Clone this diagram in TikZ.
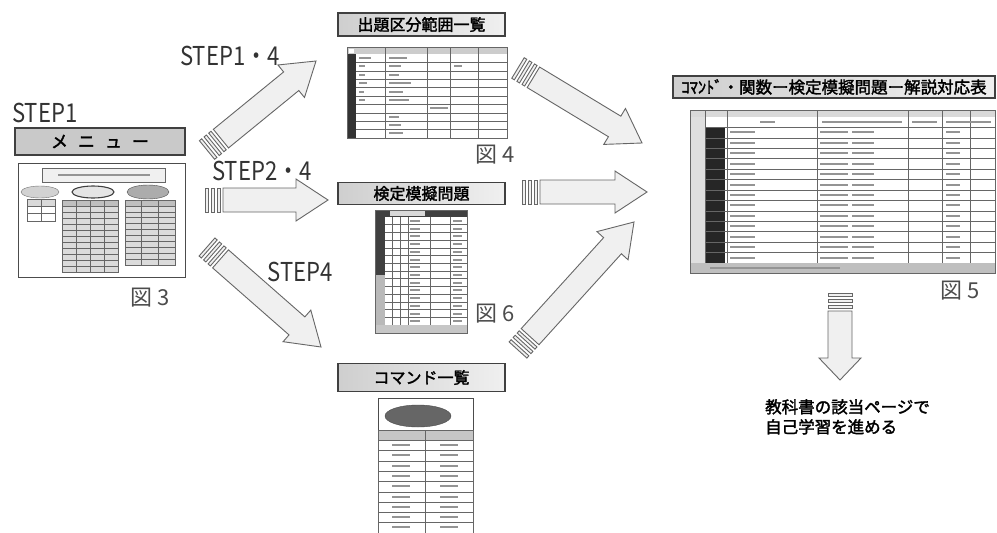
\documentclass[tikz,border=0pt]{standalone}
\usepackage{fontspec}
\usetikzlibrary{calc}
\newfontfamily\jp[AutoFakeBold=2]{Noto Sans CJK JP}
\newfontfamily\stepfont[FakeStretch=0.85]{Noto Sans CJK JP}

\tikzset{
  titlebox/.style={draw=black!75, line width=1.6pt, inner sep=0pt,
    font=\jp\bfseries\fontsize{16}{16}\selectfont, text=black},
  titleshade/.style={titlebox, left color=gray!38, right color=gray!12},
  steplabel/.style={font=\stepfont\fontsize{26}{26}\selectfont, text=black!80, inner sep=0pt},
  figlabel/.style={font=\jp\fontsize{22}{22}\selectfont, text=black!70, inner sep=0pt},
  arrowbody/.style={draw=black!60, fill=gray!12, line width=0.9pt, line join=miter},
  shotframe/.style={draw=black!70, fill=white, line width=0.9pt, inner sep=0pt},
  gridline/.style={draw=black!60, line width=0.6pt},
  textmark/.style={draw=black!42, line width=2pt},
}

% block arrow with striped tail: [head length]{tail}{tip}
\newcommand\blockarrow[3][32]{%
  \foreach \sa/\sb in {0/3,6/9,12/15}{%
    \coordinate (ba-a) at ($(#2)!\sa pt!(#3)$);
    \coordinate (ba-b) at ($(#2)!\sb pt!(#3)$);
    \draw[arrowbody] ($(ba-a)!12pt!90:(#3)$) -- ($(ba-b)!12pt!90:(#3)$)
      -- ($(ba-b)!12pt!-90:(#3)$) -- ($(ba-a)!12pt!-90:(#3)$) -- cycle;
  }
  \coordinate (ba-s) at ($(#2)!18pt!(#3)$);
  \coordinate (ba-h) at ($(#3)!#1pt!(#2)$);
  \draw[arrowbody] ($(ba-s)!12pt!90:(#3)$) -- ($(ba-h)!12pt!90:(#3)$)
    -- ($(ba-h)!21pt!90:(#3)$) -- (#3) -- ($(ba-h)!21pt!-90:(#3)$)
    -- ($(ba-h)!12pt!-90:(#3)$) -- ($(ba-s)!12pt!-90:(#3)$) -- cycle;
}

% evenly ruled table: [style]{x0}{y0}{x1}{y1}{columns}{rows}
\newcommand\cellgrid[7][gridline]{%
  \pgfmathsetmacro\cgdx{(#4-#2)/#6}%
  \pgfmathsetmacro\cgdy{(#5-#3)/#7}%
  \pgfmathtruncatemacro\cgnc{#6-1}%
  \pgfmathtruncatemacro\cgnr{#7-1}%
  \foreach \i in {1,...,\cgnc} \draw[#1] ({#2+\i*\cgdx},#3) -- ({#2+\i*\cgdx},#5);
  \foreach \j in {1,...,\cgnr} \draw[#1] (#2,{#3+\j*\cgdy}) -- (#4,{#3+\j*\cgdy});
  \draw[#1] (#2,#3) rectangle (#4,#5);
}

\begin{document}
\begin{tikzpicture}[x=1pt,y=-1pt]
\useasboundingbox (0,0) rectangle (997,533);
\fill[white] (0,0) rectangle (997,533);

% ---------- step labels ----------
\node[steplabel, anchor=west] (s1) at (12,113) {STEP1};
\node[steplabel] (s14) at (230,56) {STEP1・4};
\node[steplabel] (s24) at (262,171) {STEP2・4};
\node[steplabel] (s4) at (300,272) {STEP4};

% ---------- menu ----------
\node[titlebox, fill=gray!42, minimum width=170, minimum height=27,
      font=\jp\bfseries\fontsize{17}{17}\selectfont] (menu) at (100,141.5)
      {メ\hspace{10pt}ニ\hspace{10pt}ュ\hspace{10pt}ー};
\node[shotframe, minimum width=167, minimum height=114, anchor=north west] (f3) at (18,163) {};
\draw[gridline, fill=gray!12] (42,168) rectangle (165,182);
\draw[textmark] (58,175) -- (150,175);
\draw[black!55, fill=gray!35] (40,192) ellipse [x radius=19, y radius=6];
\draw[black!75, line width=1.1pt, fill=gray!20] (93,192) ellipse [x radius=21, y radius=6];
\draw[black!70, fill=gray!65] (148,192) ellipse [x radius=21, y radius=7];
\fill[gray!30] (27,199) rectangle (55,206);
\cellgrid{27}{199}{55}{221}{2}{3}
\fill[gray!28] (62,200) rectangle (118,272);
\fill[gray!50] (62,200) rectangle (118,206);
\cellgrid{62}{200}{118}{272}{4}{12}
\fill[gray!28] (125,200) rectangle (175,265);
\fill[gray!50] (125,200) rectangle (175,206);
\cellgrid{125}{200}{175}{265}{3}{11}
\node[figlabel] (c3) at (150,298) {図 3};

% ---------- table of question areas ----------
\node[titleshade, minimum width=167, minimum height=23] (t4) at (421.5,24.5) {出題区分範囲一覧};
\node[shotframe, minimum width=160, minimum height=91, anchor=north west] (f4) at (347,47) {};
\fill[gray!40] (347,47) rectangle (507,54);
\fill[black!80] (347,54) rectangle (356,138);
\fill[white] (348.5,48.5) rectangle (354,53);
\foreach \r in {1,...,10} \draw[gridline] (356,{54+\r*8.4}) -- (507,{54+\r*8.4});
\foreach \c in {385,427,450,478} \draw[gridline] (\c,47) -- (\c,138);
\draw[black!60] (347,47) rectangle (507,138);
\foreach \y/\w in {58/18,66/12,75/10,83/22,92/14,100/20,117/10,125/12,133/14}
  \draw[textmark] (389,\y) -- ++(\w,0);
\foreach \y/\w in {58/12,66/6,75/6,83/8,92/5,100/6}
  \draw[textmark] (359,\y) -- ++(\w,0);
\draw[textmark] (454,66) -- ++(8,0);
\draw[textmark] (430,108) -- ++(18,0);
\node[figlabel] (c4) at (495,155) {図 4};

% ---------- mock exam ----------
\node[titleshade, minimum width=167, minimum height=22] (t6) at (421.5,193.5) {検定模擬問題};
\node[shotframe, minimum width=92, minimum height=123, anchor=north west] (f6) at (375,210) {};
\fill[black!75] (375,210) rectangle (467,217);
\fill[gray!30] (390,211) rectangle (425,216);
\fill[black!75] (375,217) rectangle (385,275);
\fill[gray!55] (375,275) rectangle (385,325);
\fill[gray!45] (375,325) rectangle (467,333);
\foreach \r in {1,...,13} \draw[gridline] (385,{217+\r*7.714}) -- (467,{217+\r*7.714});
\foreach \c in {392,400,408,430,450} \draw[gridline] (\c,217) -- (\c,325);
\draw[black!60] (375,210) rectangle (467,333);
\foreach \r in {0,...,13} {
  \draw[textmark] (410,{221+\r*7.714}) -- ++(10,0);
  \draw[textmark] (453,{221+\r*7.714}) -- ++(9,0);
}
\node[figlabel] (c6) at (495,314) {図 6};

% ---------- command list ----------
\node[titleshade, minimum width=167, minimum height=28] (tc) at (421.5,377.5) {コマンド一覧};
\node[shotframe, minimum width=95, minimum height=135, anchor=north west] (fc) at (378,398) {};
\draw[black!70, fill=black!60] (418,416) ellipse [x radius=33, y radius=11];
\fill[gray!45] (378,430) rectangle (473,440);
\cellgrid{378}{430}{473}{533}{2}{10}
\foreach \r in {1,...,9} {
  \draw[textmark] (392,{445+\r*10.3-10.3}) -- ++(18,0);
  \draw[textmark] (440,{445+\r*10.3-10.3}) -- ++(18,0);
}

% ---------- correspondence table ----------
\node[titleshade, minimum width=322, minimum height=22,
      font=\jp\bfseries\fontsize{16.5}{16.5}\selectfont] (t5) at (834,87)
      {ｺﾏﾝﾄﾞ・関数ー検定模擬問題ー解説対応表};
\node[shotframe, minimum width=305, minimum height=163, anchor=north west] (f5) at (690,110) {};
\fill[gray!30] (690,110) rectangle (995,117);
\fill[gray!25] (690,117) rectangle (705,263);
\fill[black!85] (706,127) rectangle (725,263);
\fill[gray!50] (690,263) rectangle (995,273);
\foreach \r in {1,...,13} \draw[gridline] (705,{117+\r*10.43}) -- (995,{117+\r*10.43});
\foreach \c in {705,727,817,908,942,970} \draw[gridline] (\c,110) -- (\c,263);
\draw[black!60] (690,110) rectangle (995,273);
\foreach \r in {1,...,13} {
  \draw[textmark] (730,{122+\r*10.43}) -- ++(25,0);
  \draw[textmark] (820,{122+\r*10.43}) -- ++(28,0);
  \draw[textmark] (852,{122+\r*10.43}) -- ++(22,0);
  \draw[textmark] (946,{122+\r*10.43}) -- ++(14,0);
}
\draw[textmark] (760,122) -- ++(15,0);
\draw[textmark] (822,122) -- ++(80,0);
\draw[textmark] (912,122) -- ++(25,0);
\draw[textmark] (946,122) -- ++(45,0);
\draw[textmark] (710,268) -- ++(130,0);
\node[figlabel] (c5) at (960,291) {図 5};

\node[font=\jp\bfseries\fontsize{16.5}{20}\selectfont, align=left, anchor=north west,
      inner sep=0pt] (note) at (765,399) {教科書の該当ページで\\自己学習を進める};

% ---------- arrows ----------
\coordinate (a1t) at (207,150); \coordinate (a1h) at (316,61);
\coordinate (a2t) at (205,200); \coordinate (a2h) at (328,200);
\coordinate (a3t) at (207,247); \coordinate (a3h) at (321,347);
\coordinate (a4t) at (518,68);  \coordinate (a4h) at (642,143);
\coordinate (a5t) at (522,192); \coordinate (a5h) at (647,192);
\coordinate (a6t) at (518,350); \coordinate (a6h) at (634,222);
\coordinate (a7t) at (840,293); \coordinate (a7h) at (840,380);
\blockarrow{a1t}{a1h}
\blockarrow{a2t}{a2h}
\blockarrow{a3t}{a3h}
\blockarrow{a4t}{a4h}
\blockarrow{a5t}{a5h}
\blockarrow{a6t}{a6h}
\blockarrow[22]{a7t}{a7h}
\end{tikzpicture}
\end{document}
